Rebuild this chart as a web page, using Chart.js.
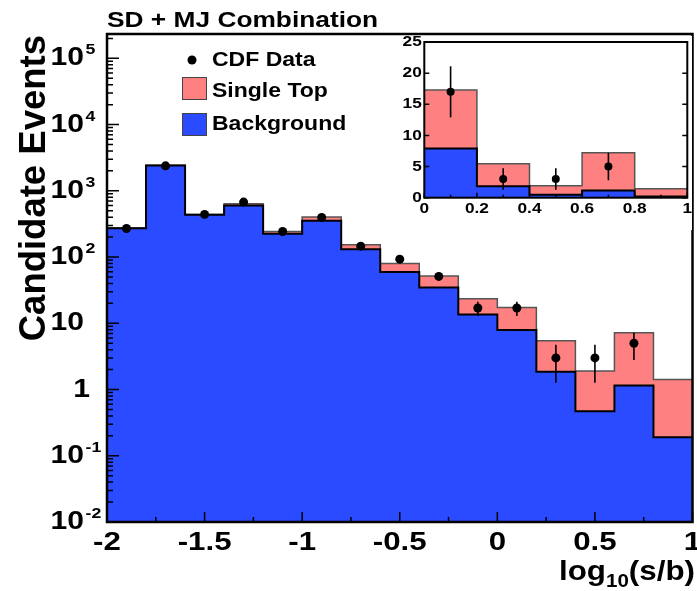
<!DOCTYPE html>
<html>
<head>
<meta charset="utf-8">
<script src="https://cdn.jsdelivr.net/npm/chart.js@4.4.1/dist/chart.umd.min.js"></script>
<style>
  html, body { margin: 0; padding: 0; background: #fff; }
  #wrap { position: relative; width: 697px; height: 591px; }
  #main { position: absolute; left: 0; top: 0; }
  #inset { position: absolute; left: 398px; top: 36px; }
</style>
</head>
<body>
<div id="wrap">
  <canvas id="main" width="697" height="591"></canvas>
  <canvas id="inset" width="294" height="194"></canvas>
</div>
<script>
// log10(s/b) bins, width 0.2
const binEdges = [-2, -1.8, -1.6, -1.4, -1.2, -1.0, -0.8, -0.6, -0.4, -0.2, 0, 0.2, 0.4, 0.6, 0.8, 1.0];
const binCenters = [-1.9, -1.7, -1.5, -1.3, -1.1, -0.9, -0.7, -0.5, -0.3, -0.1, 0.1, 0.3, 0.5, 0.7, 0.9];
const background = [273, 2415, 434, 600, 224, 352, 131, 59.7, 34.6, 13.6, 7.9, 1.85, 0.47, 1.15, 0.19];
const singleTop  = [2, 15, 3, 37, 19, 49, 22, 20, 17, 9.8, 9.4, 3.6, 1.43, 6.05, 1.23];
const cdfData    = [270, 2380, 440, 675, 243, 397, 146, 93, 51, 17, 17, 3, 3, 5, null];
const cdfLow     = [254, 2331, 419, 649, 227, 377, 134, 83, 44, 12.9, 12.9, 1.27, 1.27, 2.8, null];
const cdfHigh    = [286, 2429, 461, 701, 259, 417, 158, 103, 58, 21.1, 21.1, 4.73, 4.73, 7.2, null];

const yDecades = [-2, -1, 0, 1, 2, 3, 4, 5];
const xMajorTicks = [-2, -1.5, -1, -0.5, 0, 0.5, 1];
const xMinorTicks = [-1.75, -1.25, -0.75, -0.25, 0.25, 0.75];
const xTickLabels = ['-2', '-1.5', '-1', '-0.5', '0', '0.5', '1'];

// inset shows the last five bins (0 .. 1) on a linear scale
const insetFirstBin = 10;
const insetYTicks = [0, 5, 10, 15, 20, 25];
const insetXTicks = [0, 0.2, 0.4, 0.6, 0.8, 1];
const insetXMinor = [0.1, 0.3, 0.5, 0.7, 0.9];
const insetXLabels = ['0', '0.2', '0.4', '0.6', '0.8', '1'];

const RED = '#ff8080';
const BLUE = '#2a4bff';
const FONT = '"Liberation Sans", Arial, Helvetica, sans-serif';

const total = background.map((b, i) => b + singleTop[i]);

function steps(vals, edges) {
  const pts = vals.map((v, i) => ({ x: edges[i], y: v }));
  pts.push({ x: edges[edges.length - 1], y: vals[vals.length - 1] });
  return pts;
}
function points(vals, xs) {
  return vals.map((v, i) => ({ x: xs[i], y: v })).filter(p => p.y !== null);
}

// bold text, slightly widened like the original rendering
function txt(ctx, s, x, y, size, align, base, sx) {
  sx = sx || 1.18;
  ctx.save();
  ctx.font = 'bold ' + size + 'px ' + FONT;
  ctx.textBaseline = base || 'middle';
  ctx.textAlign = 'left';
  ctx.fillStyle = '#000';
  const w = ctx.measureText(s).width * sx;
  const x0 = align === 'right' ? x - w : align === 'center' ? x - w / 2 : x;
  ctx.translate(x0, y);
  ctx.scale(sx, 1);
  ctx.fillText(s, 0, 0);
  ctx.restore();
  return w;
}

function histDatasets(bkg, tot, data, edges, centers, r) {
  return [
    { data: steps(tot, edges), stepped: 'before', fill: 'start', backgroundColor: RED,
      borderColor: '#555', borderWidth: 1.5, pointRadius: 0, order: 3 },
    { data: steps(bkg, edges), stepped: 'before', fill: 'start', backgroundColor: BLUE,
      borderColor: '#000', borderWidth: 2, pointRadius: 0, order: 2 },
    { data: points(data, centers), showLine: false, pointRadius: r, pointBackgroundColor: '#000',
      pointBorderColor: '#000', pointBorderWidth: 0, order: 1 },
  ];
}

function errorBars(lows, highs, centers) {
  return {
    id: 'errorBars',
    afterDatasetsDraw(chart) {
      const { ctx, scales: { x, y } } = chart;
      ctx.save();
      ctx.strokeStyle = '#000';
      ctx.lineWidth = 1.6;
      lows.forEach((lo, i) => {
        if (lo === null) return;
        const px = x.getPixelForValue(centers[i]);
        ctx.beginPath();
        ctx.moveTo(px, y.getPixelForValue(lo));
        ctx.lineTo(px, y.getPixelForValue(highs[i]));
        ctx.stroke();
      });
      ctx.restore();
    }
  };
}

const mainAxes = {
  id: 'mainAxes',
  afterDraw(chart) {
    const { ctx, chartArea: a, scales: { x, y } } = chart;
    ctx.save();
    ctx.strokeStyle = '#000';
    // ticks (inside)
    ctx.lineWidth = 1.5;
    ctx.beginPath();
    yDecades.forEach(k => {
      const py = y.getPixelForValue(Math.pow(10, k));
      ctx.moveTo(a.left, py); ctx.lineTo(a.left + 12, py);
      for (let m = 2; m <= 9; m++) {
        const v = m * Math.pow(10, k);
        if (v > y.max) break;
        const pm = y.getPixelForValue(v);
        ctx.moveTo(a.left, pm); ctx.lineTo(a.left + 6, pm);
      }
    });
    xMajorTicks.forEach(t => {
      const px = x.getPixelForValue(t);
      ctx.moveTo(px, a.bottom); ctx.lineTo(px, a.bottom - 10);
    });
    xMinorTicks.forEach(t => {
      const px = x.getPixelForValue(t);
      ctx.moveTo(px, a.bottom); ctx.lineTo(px, a.bottom - 5);
    });
    ctx.stroke();
    // frame
    ctx.lineWidth = 2.5;
    ctx.strokeRect(a.left, a.top, a.right - a.left, a.bottom - a.top);

    // y labels
    yDecades.forEach(k => {
      const py = y.getPixelForValue(Math.pow(10, k));
      if (k === 0) { txt(ctx, '1', 90, py, 25.5, 'right'); return; }
      txt(ctx, '10', 84, py, 25.5, 'right');
      if (k !== 1) txt(ctx, String(k), 85.5, py - 8, 15, 'left');
    });
    // x labels
    xMajorTicks.forEach((t, i) => {
      txt(ctx, xTickLabels[i], x.getPixelForValue(t), a.bottom + 21, 26.5, 'center');
    });

    // x title: log10(s/b)
    let xr = 695;
    xr -= txt(ctx, '(s/b)', xr, 580, 27.5, 'right', 'alphabetic', 1.14);
    xr -= txt(ctx, '10', xr, 587, 18, 'right', 'alphabetic', 1.14);
    txt(ctx, 'log', xr, 580, 27.5, 'right', 'alphabetic', 1.14);

    // y title
    ctx.save();
    ctx.translate(45, 35);
    ctx.rotate(-Math.PI / 2);
    ctx.font = 'bold 36.5px ' + FONT;
    ctx.textAlign = 'right';
    ctx.textBaseline = 'alphabetic';
    ctx.fillStyle = '#000';
    ctx.fillText('Candidate Events', 0, 0);
    ctx.restore();

    // title
    txt(ctx, 'SD + MJ Combination', 107, 27, 22.3, 'left', 'alphabetic');

    // legend
    ctx.fillStyle = '#000';
    ctx.beginPath(); ctx.arc(192, 60, 4.5, 0, Math.PI * 2); ctx.fill();
    txt(ctx, 'CDF Data', 212, 61, 19.5, 'left');
    ctx.lineWidth = 1;
    ctx.strokeStyle = '#444';
    ctx.fillStyle = RED;
    ctx.fillRect(182, 77, 25, 23); ctx.strokeRect(182.5, 77.5, 24, 22);
    txt(ctx, 'Single Top', 212, 92, 19.5, 'left');
    ctx.fillStyle = BLUE;
    ctx.fillRect(182, 113, 25, 23); ctx.strokeRect(182.5, 113.5, 24, 22);
    txt(ctx, 'Background', 212, 125, 19.5, 'left');
    ctx.restore();
  }
};

new Chart(document.getElementById('main'), {
  type: 'line',
  data: { datasets: histDatasets(background, total, cdfData, binEdges, binCenters, 4.5) },
  options: {
    responsive: false, animation: false, devicePixelRatio: 1,
    layout: { padding: { left: 107, top: 34, right: 3, bottom: 69 } },
    plugins: { legend: { display: false }, tooltip: { enabled: false } },
    scales: {
      x: { type: 'linear', min: -2, max: 1, display: false },
      y: { type: 'logarithmic', min: 0.01, max: 2.33e5, display: false },
    },
  },
  plugins: [errorBars(cdfLow, cdfHigh, binCenters), mainAxes],
});

// ---- inset ----
const sl = arr => arr.slice(insetFirstBin);
const insetAxes = {
  id: 'insetAxes',
  beforeDraw(chart) {
    const { ctx } = chart;
    ctx.save(); ctx.fillStyle = '#fff'; ctx.fillRect(0, 0, chart.width, chart.height); ctx.restore();
  },
  afterDraw(chart) {
    const { ctx, chartArea: a, scales: { x, y } } = chart;
    ctx.save();
    ctx.strokeStyle = '#000';
    ctx.lineWidth = 1.5;
    ctx.beginPath();
    insetYTicks.forEach(t => {
      const py = y.getPixelForValue(t);
      ctx.moveTo(a.left, py); ctx.lineTo(a.left + 5, py);
      ctx.moveTo(a.right, py); ctx.lineTo(a.right - 5, py);
    });
    insetXTicks.forEach(t => {
      const px = x.getPixelForValue(t);
      ctx.moveTo(px, a.bottom); ctx.lineTo(px, a.bottom - 5);
    });
    insetXMinor.forEach(t => {
      const px = x.getPixelForValue(t);
      ctx.moveTo(px, a.bottom); ctx.lineTo(px, a.bottom - 3);
    });
    ctx.stroke();
    ctx.lineWidth = 2;
    ctx.strokeRect(a.left, a.top, a.right - a.left, a.bottom - a.top);
    insetYTicks.forEach(t => txt(ctx, String(t), a.left - 2.5, y.getPixelForValue(t), 15, 'right', 'middle', 1.15));
    insetXTicks.forEach((t, i) => txt(ctx, insetXLabels[i], x.getPixelForValue(t), a.bottom + 11.5, 15, 'center', 'middle', 1.15));
    ctx.restore();
  }
};

new Chart(document.getElementById('inset'), {
  type: 'line',
  data: { datasets: histDatasets(sl(background), sl(total), sl(cdfData), sl(binEdges), sl(binCenters), 4) },
  options: {
    responsive: false, animation: false, devicePixelRatio: 1,
    layout: { padding: { left: 26.3, top: 6, right: 4.7, bottom: 32.3 } },
    plugins: { legend: { display: false }, tooltip: { enabled: false } },
    scales: {
      x: { type: 'linear', min: 0, max: 1, display: false },
      y: { type: 'linear', min: 0, max: 25, display: false },
    },
  },
  plugins: [errorBars(sl(cdfLow), sl(cdfHigh), sl(binCenters)), insetAxes],
});
</script>
</body>
</html>
